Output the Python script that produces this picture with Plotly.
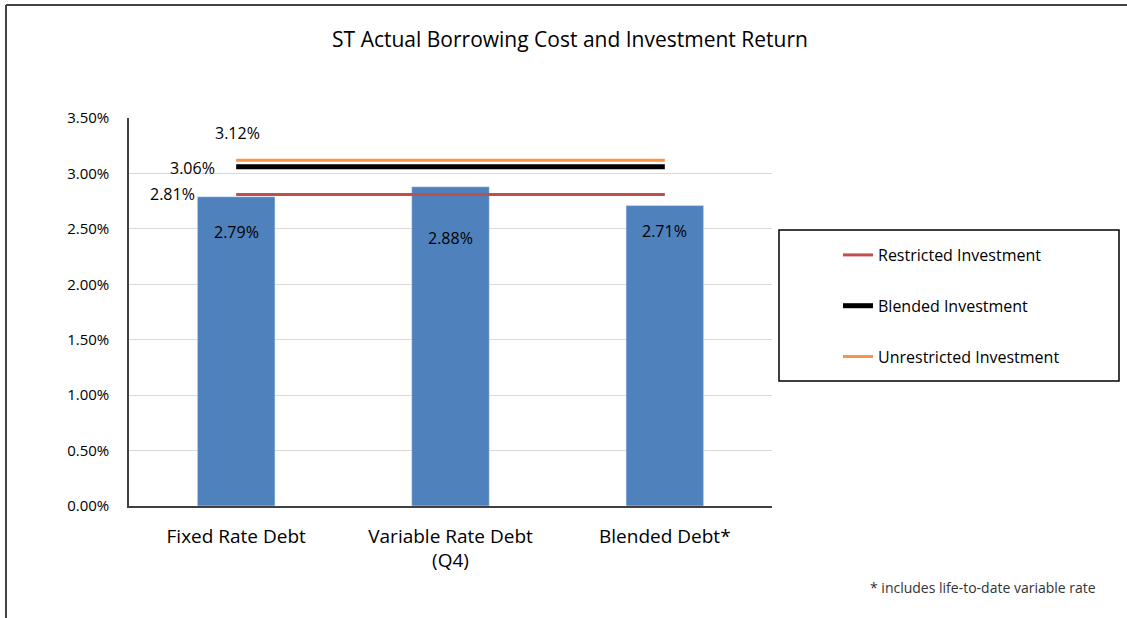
import plotly.graph_objects as go

# ---- data ----
categories = ["Fixed Rate Debt", "Variable Rate Debt<br>(Q4)", "Blended Debt*"]
borrowing_cost = [2.79, 2.88, 2.71]
restricted_inv = [2.81, 2.81, 2.81]
blended_inv = [3.06, 3.06, 3.06]
unrestricted_inv = [3.12, 3.12, 3.12]
y_ticks = [0.0, 0.5, 1.0, 1.5, 2.0, 2.5, 3.0, 3.5]

FONT = "Open Sans"

# plot-area pixel geometry (used for paper-coordinate conversion)
PL, PR, PT, PB = 129, 772, 118, 506
W, H = 1127, 618


def px(x):
    return (x - PL) / (PR - PL)


def py(y):
    return (PB - y) / (PB - PT)


fig = go.Figure()

fig.add_trace(go.Bar(
    x=categories, y=borrowing_cost, marker_color="#4F81BD",
    showlegend=False, name="Borrowing Cost", hoverinfo="y",
))

line_series = [
    ("Restricted Investment", restricted_inv, "#C0504D", 3),
    ("Blended Investment", blended_inv, "#000000", 5),
    ("Unrestricted Investment", unrestricted_inv, "#F79646", 3),
]
# draw orange first so black sits on top
draw_order = [2, 0, 1]
for i in draw_order:
    name, vals, col, w = line_series[i]
    fig.add_trace(go.Scatter(
        x=categories, y=vals, mode="lines", name=name,
        line=dict(color=col, width=w), legendgroup=name, legendrank=i + 1,
    ))

# bar value labels (inside, near top)
bar_label_shift = [-35, -51, -25]
for c, v, s in zip(categories, borrowing_cost, bar_label_shift):
    fig.add_annotation(x=c, y=v, text=f"{v:.2f}%", showarrow=False,
                       yshift=s, font=dict(family=FONT, size=16, color="#000"))

# line value labels (at the first point)
line_label_shift = {
    "Restricted Investment": (-64, 0),
    "Blended Investment": (-44, -1),
    "Unrestricted Investment": (1, 27),
}
for name, vals, col, w in line_series:
    xs, ys = line_label_shift[name]
    fig.add_annotation(x=categories[0], y=vals[0], text=f"{vals[0]:.2f}%",
                       showarrow=False, xshift=xs, yshift=ys,
                       font=dict(family=FONT, size=16, color="#000"))

# legend box
fig.add_shape(type="rect", xref="paper", yref="paper",
              x0=px(779), x1=px(1119), y0=py(381), y1=py(230),
              line=dict(color="#000", width=1.5), fillcolor="rgba(0,0,0,0)")

# outer frame (top and left)
fig.add_shape(type="line", xref="paper", yref="paper",
              x0=px(6), x1=px(1130), y0=py(5), y1=py(5),
              line=dict(color="#444", width=2))
fig.add_shape(type="line", xref="paper", yref="paper",
              x0=px(6), x1=px(6), y0=py(5), y1=py(625),
              line=dict(color="#444", width=2))

# footnote
fig.add_annotation(xref="paper", yref="paper",
                   x=px(1098), y=py(587),
                   xanchor="right", yanchor="middle", showarrow=False,
                   text="* includes life-to-date variable rate",
                   font=dict(family=FONT, size=14, color="#333"))

fig.update_layout(
    width=W, height=H,
    margin=dict(l=PL, r=W - PR, t=PT, b=H - PB, pad=0),
    paper_bgcolor="white", plot_bgcolor="white",
    font=dict(family=FONT, color="#000"),
    title=dict(text="ST Actual Borrowing Cost and Investment Return",
               x=570 / W, xanchor="center", y=1 - 40 / H, yanchor="middle",
               font=dict(family=FONT, size=21, color="#000")),
    bargap=0.638,
    legend=dict(x=px(838), xanchor="left",
                y=py(238), yanchor="top",
                bgcolor="rgba(0,0,0,0)", borderwidth=0,
                tracegroupgap=27, traceorder="grouped",
                font=dict(family=FONT, size=16, color="#000")),
    showlegend=True,
)

fig.update_xaxes(showline=True, linecolor="#404040", linewidth=1.5,
                 ticks="", ticklabelstandoff=12,
                 tickfont=dict(family=FONT, size=19, color="#000"))
fig.update_yaxes(range=[0, 3.5], tickvals=y_ticks,
                 ticktext=[f"{t:.2f}%" for t in y_ticks],
                 showline=True, linecolor="#404040", linewidth=1.5,
                 showgrid=True, gridcolor="#D9D9D9", gridwidth=1,
                 zeroline=False, ticks="", ticklabelstandoff=15,
                 tickfont=dict(family=FONT, size=15, color="#000"))

fig.write_html(
    "out.html",
    config={"displayModeBar": False},
    post_script="document.body.style.margin='0';document.body.style.overflow='hidden';",
)
